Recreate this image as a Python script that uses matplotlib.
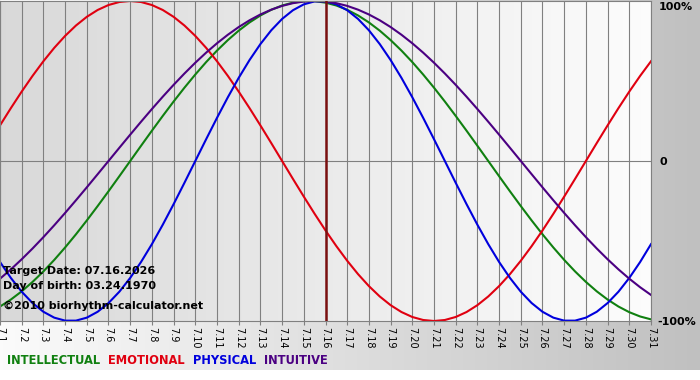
"""Biorhythm chart, July 2026"""
import numpy as np
from matplotlib import pyplot as plt

days = list(range(1, 32))
day_labels = ['7.%d' % d for d in days]
target_day = 16
# curve readings are taken every half day, 7.1 .. 7.31
sample_days = [h / 2 for h in range(2, 63)]

# values (-1 .. 1), one every half day
intellectual = [
    -0.9096, -0.8660, -0.8146, -0.7557, -0.6901, -0.6182, -0.5406, -0.4582,
    -0.3717, -0.2817, -0.1893, -0.0951,
    0.0, 0.0951, 0.1893, 0.2817, 0.3717, 0.4582, 0.5406, 0.6182, 0.6901,
    0.7557, 0.8146, 0.8660, 0.9096, 0.9450, 0.9718, 0.9898, 0.9989, 0.9989,
    0.9898, 0.9718, 0.9450, 0.9096, 0.8660, 0.8146, 0.7557, 0.6901, 0.6182,
    0.5406, 0.4582, 0.3717, 0.2817, 0.1893, 0.0951, 0.0,
    -0.0951, -0.1893, -0.2817, -0.3717, -0.4582, -0.5406, -0.6182, -0.6901,
    -0.7557, -0.8146, -0.8660, -0.9096, -0.9450, -0.9718, -0.9898]
emotional = [
    0.2225, 0.3303, 0.4339, 0.5320, 0.6235, 0.7071, 0.7818, 0.8467, 0.9010,
    0.9439, 0.9749, 0.9937, 1.0,
    0.9937, 0.9749, 0.9439, 0.9010, 0.8467, 0.7818, 0.7071, 0.6235, 0.5320,
    0.4339, 0.3303, 0.2225, 0.1120, 0.0,
    -0.1120, -0.2225, -0.3303, -0.4339, -0.5320, -0.6235, -0.7071, -0.7818,
    -0.8467, -0.9010, -0.9439, -0.9749, -0.9937, -1.0,
    -0.9937, -0.9749, -0.9439, -0.9010, -0.8467, -0.7818, -0.7071, -0.6235,
    -0.5320, -0.4339, -0.3303, -0.2225, -0.1120, 0.0,
    0.1120, 0.2225, 0.3303, 0.4339, 0.5320, 0.6235]
physical = [
    -0.6311, -0.7308, -0.8170, -0.8879, -0.9423, -0.9791, -0.9977, -0.9977,
    -0.9791, -0.9423, -0.8879, -0.8170, -0.7308, -0.6311, -0.5196, -0.3984,
    -0.2698, -0.1362, 0.0,
    0.1362, 0.2698, 0.3984, 0.5196, 0.6311, 0.7308, 0.8170, 0.8879, 0.9423,
    0.9791, 0.9977, 0.9977, 0.9791, 0.9423, 0.8879, 0.8170, 0.7308, 0.6311,
    0.5196, 0.3984, 0.2698, 0.1362, 0.0,
    -0.1362, -0.2698, -0.3984, -0.5196, -0.6311, -0.7308, -0.8170, -0.8879,
    -0.9423, -0.9791, -0.9977, -0.9977, -0.9791, -0.9423, -0.8879, -0.8170,
    -0.7308, -0.6311, -0.5196]
intuitive = [
    -0.7357, -0.6773, -0.6142, -0.5469, -0.4759, -0.4017, -0.3247, -0.2455,
    -0.1646, -0.0826,
    0.0, 0.0826, 0.1646, 0.2455, 0.3247, 0.4017, 0.4759, 0.5469, 0.6142,
    0.6773, 0.7357, 0.7891, 0.8372, 0.8795, 0.9158, 0.9458, 0.9694, 0.9864,
    0.9966, 1.0, 0.9966, 0.9864, 0.9694, 0.9458, 0.9158, 0.8795, 0.8372,
    0.7891, 0.7357, 0.6773, 0.6142, 0.5469, 0.4759, 0.4017, 0.3247, 0.2455,
    0.1646, 0.0826, 0.0,
    -0.0826, -0.1646, -0.2455, -0.3247, -0.4017, -0.4759, -0.5469, -0.6142,
    -0.6773, -0.7357, -0.7891, -0.8372]

series = [('INTELLECTUAL', intellectual, '#108010'),
          ('EMOTIONAL', emotional, '#e00010'),
          ('PHYSICAL', physical, '#0000dd'),
          ('INTUITIVE', intuitive, '#4b0082')]
info_lines = ['Target Date: 07.16.2026', 'Day of birth: 03.24.1970',
              '\u00a92010 biorhythm-calculator.net']
scale_labels = ['100%', '0', '-100%']

W, H = 700, 380
fig = plt.figure(figsize=(W / 100, H / 100), dpi=100)
fig.patch.set_facecolor('white')

# page background: horizontal gradient white -> grey, white strip at bottom
bg = fig.add_axes([0, 10 / H, 1, 1 - 10 / H])
bg.set_axis_off()
grad = np.linspace(0.985, 0.753, 256).reshape(1, -1)
bg.imshow(np.dstack([grad] * 3), aspect='auto', extent=(0, 1, 0, 1))

ax = fig.add_axes([0, 1 - 321 / H, 651 / W, 320 / H])
ax.set_xlim(1, 31)
ax.set_ylim(-1, 1)
pgrad = np.linspace(0.85, 0.99, 256).reshape(1, -1)
ax.imshow(np.dstack([pgrad] * 3), aspect='auto', extent=(1, 31, -1, 1),
          zorder=0)

for d in days:
    ax.axvline(d, color='#808080', lw=0.8, zorder=1)
ax.axhline(0, color='#808080', lw=0.8, zorder=1)
ax.axvline(target_day, color='#7a1010', lw=1.8, zorder=3)

for name, vals, color in series:
    ax.plot(sample_days, vals, color=color, lw=1.5, zorder=2)

for spine in ax.spines.values():
    spine.set_color('#808080')
    spine.set_linewidth(0.8)

ax.set_yticks([])
ax.set_xticks(days)
ax.set_xticklabels(day_labels, rotation=-90, fontsize=7)
ax.tick_params(axis='x', length=3, width=0.8, color='#808080', pad=1)

for y, line in zip([271, 286, 306], info_lines):
    fig.text(3 / W, 1 - y / H, line, fontsize=8, fontweight='bold',
             va='center', ha='left', zorder=5)

for y, lab in zip([7, 162, 322], scale_labels):
    fig.text((657 if lab.startswith('-') else 659) / W, 1 - y / H, lab,
             fontsize=8, fontweight='bold', va='center', ha='left')

# legend as coloured words in a row
fig.canvas.draw()
renderer = fig.canvas.get_renderer()
x = 7
for name, vals, color in series:
    t = fig.text(x / W, 1 - 361 / H, name, color=color, fontsize=8.3,
                 fontweight='bold', va='center', ha='left')
    bb = t.get_window_extent(renderer)
    x += bb.width + 8

fig.savefig('out.png', dpi=100)
